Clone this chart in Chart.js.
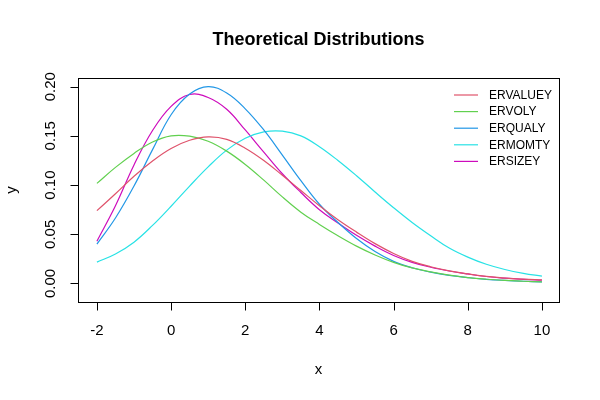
<!DOCTYPE html>
<html>
<head>
<meta charset="utf-8">
<script src="https://cdn.jsdelivr.net/npm/chart.js@4"></script>
<style>
  html, body { margin: 0; padding: 0; background: #fff; }
  #wrap { width: 600px; height: 400px; }
</style>
</head>
<body>
<div id="wrap"><canvas id="distChart" width="600" height="400"></canvas></div>
<script>
// x grid the curves were read at
const xs = [-2, -1.5, -1, -0.5, 0, 0.5, 1, 1.5, 2, 2.5, 3, 3.5, 4, 4.5, 5, 5.5, 6, 6.5, 7, 7.5, 8, 8.5, 9, 9.5, 10];

// density values
const erValueY = [0.0740, 0.0912, 0.1090, 0.1245, 0.1372, 0.1455, 0.1490, 0.1465, 0.1375, 0.1250, 0.1100, 0.0945, 0.0790, 0.0648, 0.0522, 0.0405, 0.0305, 0.0225, 0.0170, 0.0128, 0.0097, 0.0072, 0.0055, 0.0044, 0.0036];
const erVolY = [0.1017, 0.1180, 0.1322, 0.1438, 0.1500, 0.1497, 0.1445, 0.1345, 0.1210, 0.1050, 0.0880, 0.0725, 0.0600, 0.0485, 0.0380, 0.0290, 0.0215, 0.0158, 0.0118, 0.0085, 0.0060, 0.0043, 0.0031, 0.0023, 0.0017];
const erQualY = [0.0400, 0.0665, 0.0990, 0.1360, 0.1715, 0.1925, 0.2000, 0.1935, 0.1775, 0.1560, 0.1305, 0.1045, 0.0805, 0.0620, 0.0457, 0.0325, 0.0225, 0.0160, 0.0115, 0.0082, 0.0060, 0.0042, 0.0031, 0.0023, 0.0017];
const erMomTY = [0.0217, 0.0300, 0.0420, 0.0590, 0.0785, 0.0990, 0.1185, 0.1355, 0.1475, 0.1540, 0.1548, 0.1500, 0.1390, 0.1250, 0.1095, 0.0930, 0.0770, 0.0620, 0.0485, 0.0360, 0.0268, 0.0195, 0.0142, 0.0103, 0.0074];
const erSizeY = [0.0430, 0.0790, 0.1205, 0.1555, 0.1800, 0.1920, 0.1890, 0.1770, 0.1560, 0.1335, 0.1115, 0.0925, 0.0750, 0.0615, 0.0490, 0.0380, 0.0285, 0.0215, 0.0165, 0.0127, 0.0097, 0.0071, 0.0054, 0.0042, 0.0034];

const seriesNames = ['ERVALUEY', 'ERVOLY', 'ERQUALY', 'ERMOMTY', 'ERSIZEY'];
const seriesValues = [erValueY, erVolY, erQualY, erMomTY, erSizeY];
const seriesColors = ['#DF536B', '#61D04F', '#2297E6', '#28E2E5', '#CD0BBC'];

const xTicks = [-2, 0, 2, 4, 6, 8, 10];
const yTicks = [0, 0.05, 0.10, 0.15, 0.20];
const yTickLabels = ['0.00', '0.05', '0.10', '0.15', '0.20'];

const FONT = '"Liberation Sans", Arial, Helvetica, sans-serif';

// R-style frame, axes, titles and legend
const basePlot = {
    id: 'basePlot',
    afterDraw(chart) {
        const ctx = chart.ctx;
        const area = chart.chartArea;
        const sx = chart.scales.x;
        const sy = chart.scales.y;
        ctx.save();
        ctx.strokeStyle = '#000';
        ctx.fillStyle = '#000';
        ctx.lineWidth = 1;

        // box
        ctx.strokeRect(Math.round(area.left) + 0.5, Math.round(area.top) + 0.5,
            Math.round(area.right - area.left), Math.round(area.bottom - area.top));

        // x axis
        const by = Math.round(area.bottom) + 0.5;
        ctx.beginPath();
        ctx.moveTo(Math.round(sx.getPixelForValue(xTicks[0])) + 0.5, by);
        ctx.lineTo(Math.round(sx.getPixelForValue(xTicks[xTicks.length - 1])) + 0.5, by);
        xTicks.forEach(t => {
            const px = Math.round(sx.getPixelForValue(t)) + 0.5;
            ctx.moveTo(px, by);
            ctx.lineTo(px, by + 8);
        });
        ctx.stroke();
        ctx.font = '15px ' + FONT;
        ctx.textAlign = 'center';
        ctx.textBaseline = 'middle';
        xTicks.forEach(t => {
            ctx.fillText(String(t), sx.getPixelForValue(t), 331);
        });

        // y axis
        const lx = Math.round(area.left) + 0.5;
        ctx.beginPath();
        ctx.moveTo(lx, Math.round(sy.getPixelForValue(yTicks[0])) + 0.5);
        ctx.lineTo(lx, Math.round(sy.getPixelForValue(yTicks[yTicks.length - 1])) + 0.5);
        yTicks.forEach(t => {
            const py = Math.round(sy.getPixelForValue(t)) + 0.5;
            ctx.moveTo(lx, py);
            ctx.lineTo(lx - 8, py);
        });
        ctx.stroke();
        yTicks.forEach((t, i) => {
            ctx.save();
            ctx.translate(51, sy.getPixelForValue(t));
            ctx.rotate(-Math.PI / 2);
            ctx.fillText(yTickLabels[i], 0, 0);
            ctx.restore();
        });

        // axis titles
        ctx.fillText('x', (area.left + area.right) / 2, 370);
        ctx.save();
        ctx.translate(12, (area.top + area.bottom) / 2);
        ctx.rotate(-Math.PI / 2);
        ctx.fillText('y', 0, 0);
        ctx.restore();

        // main title
        ctx.font = 'bold 18px ' + FONT;
        ctx.fillText('Theoretical Distributions', (area.left + area.right) / 2, 40);

        // legend (no box)
        ctx.font = '12px ' + FONT;
        ctx.textAlign = 'left';
        seriesNames.forEach((name, i) => {
            const ly = 95 + i * 16.6;
            ctx.strokeStyle = seriesColors[i];
            ctx.lineWidth = 1.2;
            ctx.beginPath();
            ctx.moveTo(454, ly);
            ctx.lineTo(478, ly);
            ctx.stroke();
            ctx.fillStyle = '#000';
            ctx.fillText(name, 489, ly + 0.5);
        });
        ctx.restore();
    }
};

const datasets = seriesNames.map((name, i) => ({
    label: name,
    data: xs.map((x, j) => ({ x: x, y: seriesValues[i][j] })),
    borderColor: seriesColors[i],
    borderWidth: 1.2,
    pointRadius: 0,
    fill: false,
    tension: 0.4
}));

new Chart(document.getElementById('distChart'), {
    type: 'line',
    data: { datasets: datasets },
    options: {
        responsive: false,
        animation: false,
        layout: { padding: { left: 78, top: 78, right: 41, bottom: 98 } },
        plugins: {
            legend: { display: false },
            tooltip: { enabled: false },
            title: { display: false }
        },
        scales: {
            x: { type: 'linear', min: -2.51, max: 10.46, display: false },
            y: { type: 'linear', min: -0.0188, max: 0.2088, display: false }
        }
    },
    plugins: [basePlot]
});
</script>
</body>
</html>
